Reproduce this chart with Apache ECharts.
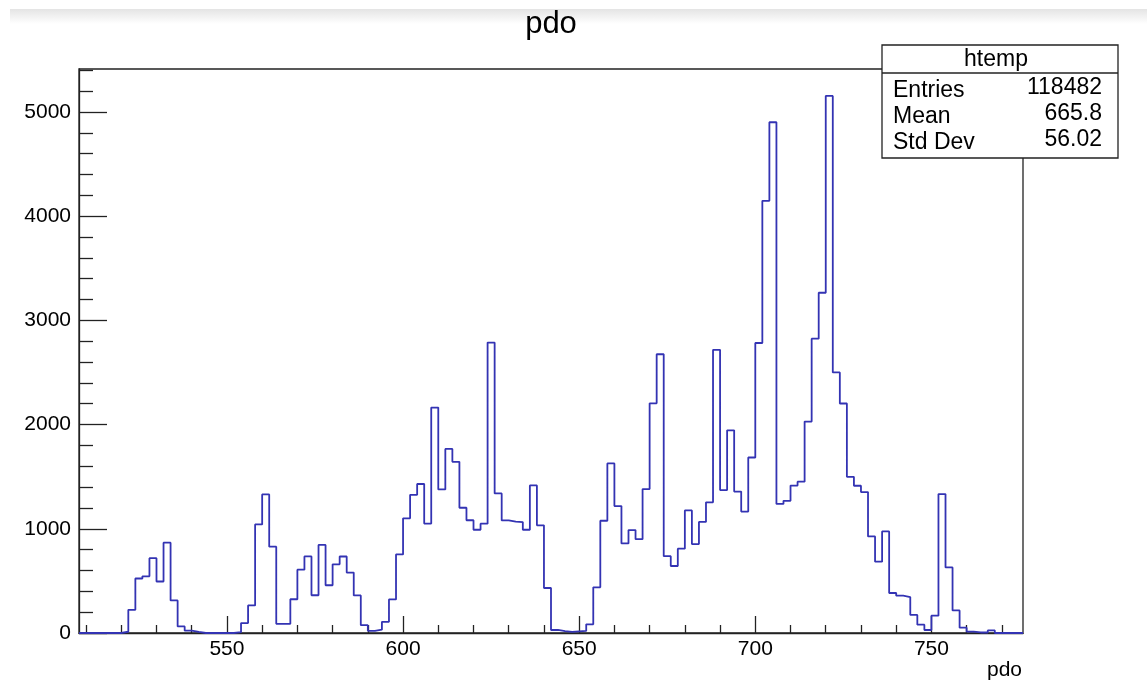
<!DOCTYPE html>
<html>
<head>
<meta charset="utf-8">
<script src="https://cdn.jsdelivr.net/npm/echarts@6/dist/echarts.min.js"></script>
<style>
html,body{margin:0;padding:0;background:#fff;}
#chart{width:1147px;height:683px;}
</style>
</head>
<body>
<div id="chart"></div>
<script>
// Histogram "pdo": bin low edges (bin width 2) and entries per bin
const binLowEdges = [
  508,510,512,514,516,518,520,522,524,526,528,530,532,534,536,538,540,542,544,546,
  548,550,552,554,556,558,560,562,564,566,568,570,572,574,576,578,580,582,584,586,
  588,590,592,594,596,598,600,602,604,606,608,610,612,614,616,618,620,622,624,626,
  628,630,632,634,636,638,640,642,644,646,648,650,652,654,656,658,660,662,664,666,
  668,670,672,674,676,678,680,682,684,686,688,690,692,694,696,698,700,702,704,706,
  708,710,712,714,716,718,720,722,724,726,728,730,732,734,736,738,740,742,744,746,
  748,750,752,754,756,758,760,762,764,766,768,770,772,774
];
const counts = [
  0,0,0,0,0,0,12,222,523,544,718,494,867,313,63,22,10,0,0,0,
  0,0,8,95,265,1042,1330,828,88,88,324,608,735,362,845,458,659,734,580,361,
  75,21,32,107,322,754,1100,1326,1430,1050,2163,1378,1766,1643,1202,1082,991,1049,2787,1339,
  1080,1068,1064,991,1416,1033,432,29,19,10,15,20,83,438,1077,1627,1218,860,988,900,
  1381,2204,2675,737,643,809,1176,853,1066,1254,2717,1371,1945,1357,1165,1684,2783,4147,4901,1239,
  1268,1415,1452,2029,2824,3265,5154,2500,2202,1499,1413,1352,927,684,975,384,358,345,173,80,
  29,166,1333,629,217,51,13,5,5,25,0,0,0,0
];
const xRange = [508, 776];
const yRange = [0, 5412];
const xMajorTicks = [550, 600, 650, 700, 750];
const xMinorTicks = [510,520,530,540,560,570,580,590,610,620,630,640,660,670,680,690,710,720,730,740,760,770];
const yMajorTicks = [0, 1000, 2000, 3000, 4000, 5000];
const yMinorTicks = [200,400,600,800,1200,1400,1600,1800,2200,2400,2600,2800,3200,3400,3600,3800,4200,4400,4600,4800,5200,5400];
const titleText = 'pdo';
const xTitle = 'pdo';
const statsName = 'htemp';
const statsLabels = ['Entries', 'Mean', 'Std Dev'];
const statsValues = ['118482', '665.8', '56.02'];

const FONT = 'Liberation Sans, Arial, Helvetica, sans-serif';

const points = binLowEdges.map((e, i) => [e, counts[i]]);
points.push([xRange[1], counts[counts.length - 1]]);

const chart = echarts.init(document.getElementById('chart'), null, {renderer: 'canvas'});

const axisCommon = {
  type: 'value',
  splitLine: {show: false},
};
const plain = v => String(v);

chart.setOption({
  animation: false,
  backgroundColor: '#ffffff',
  grid: {
    left: 79, top: 69, width: 944, height: 564,
    show: true, borderColor: '#222', borderWidth: 1.3,
    backgroundColor: 'transparent'
  },
  xAxis: [
    Object.assign({}, axisCommon, {
      min: xRange[0], max: xRange[1], position: 'bottom',
      axisLine: {show: true, onZero: false, lineStyle: {color: '#222', width: 1.3}},
      axisTick: {show: true, inside: true, length: 17, customValues: xMajorTicks, lineStyle: {color: '#222', width: 1.3}},
      axisLabel: {show: true, customValues: xMajorTicks, formatter: plain, fontSize: 21, color: '#000', fontFamily: FONT, margin: 6}
    }),
    Object.assign({}, axisCommon, {
      min: xRange[0], max: xRange[1], position: 'bottom', offset: 0,
      axisLine: {show: false, onZero: false},
      axisTick: {show: true, inside: true, length: 8, customValues: xMinorTicks, lineStyle: {color: '#222', width: 1.3}},
      axisLabel: {show: false}
    })
  ],
  yAxis: [
    Object.assign({}, axisCommon, {
      min: yRange[0], max: yRange[1], position: 'left',
      axisLine: {show: true, onZero: false, lineStyle: {color: '#222', width: 1.3}},
      axisTick: {show: true, inside: true, length: 28, customValues: yMajorTicks, lineStyle: {color: '#222', width: 1.3}},
      axisLabel: {show: true, customValues: yMajorTicks, formatter: plain, fontSize: 21, color: '#000', fontFamily: FONT, margin: 8}
    }),
    Object.assign({}, axisCommon, {
      min: yRange[0], max: yRange[1], position: 'left', offset: 0,
      axisLine: {show: false, onZero: false},
      axisTick: {show: true, inside: true, length: 14, customValues: yMinorTicks, lineStyle: {color: '#222', width: 1.3}},
      axisLabel: {show: false}
    })
  ],
  series: [{
    type: 'line',
    step: 'end',
    data: points,
    xAxisIndex: 0,
    yAxisIndex: 0,
    symbol: 'none',
    lineStyle: {color: '#3333b3', width: 1.8},
    z: 5
  }],
  graphic: [
    {
      type: 'rect', z: -10, silent: true,
      shape: {x: 10, y: 9, width: 1137, height: 15},
      style: {fill: new echarts.graphic.LinearGradient(0, 0, 0, 1, [
        {offset: 0, color: '#e4e4e4'}, {offset: 1, color: '#ffffff'}
      ])}
    },
    {
      type: 'text', z: 50, x: 551, y: 24,
      style: {text: titleText, fontSize: 31, fontFamily: FONT, fill: '#000', align: 'center', verticalAlign: 'middle'}
    },
    {
      type: 'text', z: 50, x: 1022, y: 670,
      style: {text: xTitle, fontSize: 21, fontFamily: FONT, fill: '#000', align: 'right', verticalAlign: 'middle'}
    },
    {
      type: 'group', z: 100,
      children: [
        {type: 'rect', z: 100, shape: {x: 882, y: 45, width: 236, height: 113},
         style: {fill: '#fff', stroke: '#222', lineWidth: 1.3}},
        {type: 'line', z: 101, shape: {x1: 882, y1: 73, x2: 1118, y2: 73},
         style: {stroke: '#222', lineWidth: 1.3}},
        {type: 'text', z: 102, x: 996, y: 60,
         style: {text: statsName, fontSize: 23, fontFamily: FONT, fill: '#000', align: 'center', verticalAlign: 'middle'}},
        {type: 'text', z: 102, x: 893, y: 91,
         style: {text: statsLabels[0], fontSize: 23, fontFamily: FONT, fill: '#000', align: 'left', verticalAlign: 'middle'}},
        {type: 'text', z: 102, x: 893, y: 117,
         style: {text: statsLabels[1], fontSize: 23, fontFamily: FONT, fill: '#000', align: 'left', verticalAlign: 'middle'}},
        {type: 'text', z: 102, x: 893, y: 143,
         style: {text: statsLabels[2], fontSize: 23, fontFamily: FONT, fill: '#000', align: 'left', verticalAlign: 'middle'}},
        {type: 'text', z: 102, x: 1102, y: 88,
         style: {text: statsValues[0], fontSize: 23, fontFamily: FONT, fill: '#000', align: 'right', verticalAlign: 'middle'}},
        {type: 'text', z: 102, x: 1102, y: 114,
         style: {text: statsValues[1], fontSize: 23, fontFamily: FONT, fill: '#000', align: 'right', verticalAlign: 'middle'}},
        {type: 'text', z: 102, x: 1102, y: 140,
         style: {text: statsValues[2], fontSize: 23, fontFamily: FONT, fill: '#000', align: 'right', verticalAlign: 'middle'}}
      ]
    }
  ]
});
</script>
</body>
</html>
